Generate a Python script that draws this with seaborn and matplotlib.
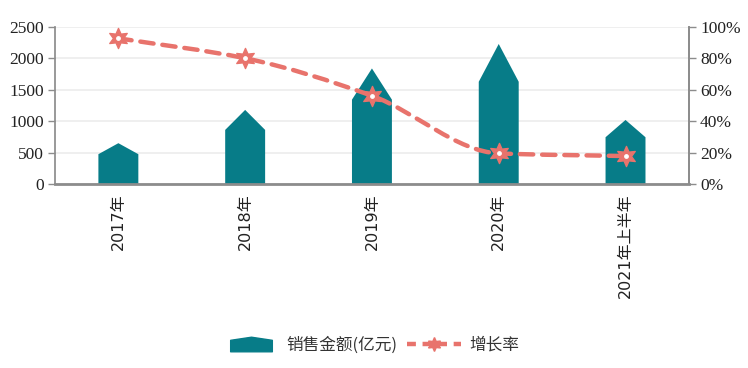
import numpy as np
import pandas as pd
import matplotlib.pyplot as plt
from matplotlib.path import Path
from matplotlib.patches import Polygon, PathPatch
from matplotlib.lines import Line2D
from matplotlib.ticker import MultipleLocator, FuncFormatter
import seaborn as sns

sns.set_theme(style='white')
plt.rcParams['font.family'] = ['DejaVu Sans', 'Noto Sans CJK SC']

categories = ["2017年", "2018年", "2019年", "2020年", "2021年上半年"]
sales = [650, 1180, 1840, 2230, 1020]          # 销售金额(亿元)
growth = [92.8, 80.1, 56.2, 19.5, 17.8]        # 增长率 (%)

BAR_COLOR = '#077c88'
LINE_COLOR = '#e8736c'
AXIS_COLOR = '#8c8c8c'

df = pd.DataFrame({"cat": categories, "sales": sales, "growth": growth})

fig = plt.figure(figsize=(7.48, 3.68), dpi=100)
ax = fig.add_axes([0.0735, 0.5, 0.8475, 0.4266])

sns.barplot(data=df, x="cat", y="sales", color=BAR_COLOR, width=0.315,
            saturation=1, ax=ax, zorder=2)

# turn the rectangles into "house" shapes (shoulder at 73% of the value)
for p in list(ax.patches):
    x0, w, h = p.get_x(), p.get_width(), p.get_height()
    verts = [(x0, 0), (x0, 0.73 * h), (x0 + w / 2, h), (x0 + w, 0.73 * h), (x0 + w, 0)]
    ax.add_patch(Polygon(verts, closed=True, facecolor=BAR_COLOR, edgecolor='none', zorder=2))
    p.remove()

ax.set_xlim(-0.5, len(categories) - 0.5)
ax.set_ylim(0, 2500)
ax.yaxis.set_major_locator(MultipleLocator(500))
ax.grid(axis='y', color='#ececec', lw=1.2, zorder=0)
ax.set_xlabel("")
ax.set_ylabel("")

ax.set_xticks(range(len(categories)))
ax.set_xticklabels(categories, rotation=90, fontsize=11.5, color='#222222')
ax.set_xticks(np.arange(-0.5, len(categories)), minor=True)
ax.tick_params(axis='x', which='major', length=0, pad=7)
ax.tick_params(axis='x', which='minor', length=5, width=1.2, color=AXIS_COLOR, direction='out')
ax.tick_params(axis='y', length=5, width=1, color=AXIS_COLOR, pad=3, left=True)
for lab in ax.get_yticklabels():
    lab.set_family('Liberation Serif')
    lab.set_fontsize(12.5)
    lab.set_color('#222222')

ax.spines['top'].set_visible(False)
ax.spines['left'].set_color(AXIS_COLOR)
ax.spines['right'].set_color(AXIS_COLOR)
ax.spines['bottom'].set_color(AXIS_COLOR)
ax.spines['bottom'].set_linewidth(2)

# growth rate on the right axis
ax2 = ax.twinx()
ax2.set_ylim(0, 100)
ax2.yaxis.set_major_locator(MultipleLocator(20))
ax2.yaxis.set_major_formatter(FuncFormatter(lambda v, _: f"{v:.0f}%"))
ax2.tick_params(axis='y', length=5, width=1, color=AXIS_COLOR, pad=3, right=True)
for lab in ax2.get_yticklabels():
    lab.set_family('Liberation Serif')
    lab.set_fontsize(12.5)
    lab.set_color('#222222')
for s in ['top', 'left', 'bottom']:
    ax2.spines[s].set_visible(False)
ax2.spines['right'].set_color(AXIS_COLOR)
ax2.grid(False)

# smooth dashed curve through the points (monotone cubic drawn as Bezier)
xs = np.arange(len(growth), dtype=float)
ys = np.array(growth, dtype=float)
n = len(ys)
d = np.diff(ys) / np.diff(xs)
m = np.zeros(n)
m[0], m[-1] = d[0], d[-1]
for i in range(1, n - 1):
    if d[i - 1] * d[i] <= 0:
        m[i] = 0
    else:
        m[i] = 2 / (1 / d[i - 1] + 1 / d[i])
verts = [(xs[0], ys[0])]
codes = [Path.MOVETO]
for i in range(n - 1):
    h = xs[i + 1] - xs[i]
    verts += [(xs[i] + h / 3, ys[i] + m[i] * h / 3),
              (xs[i + 1] - h / 3, ys[i + 1] - m[i + 1] * h / 3),
              (xs[i + 1], ys[i + 1])]
    codes += [Path.CURVE4] * 3
curve = PathPatch(Path(verts, codes), facecolor='none', edgecolor=LINE_COLOR, lw=3.2,
                  linestyle=(0, (3, 2)), capstyle='round', zorder=3)
ax2.add_patch(curve)

sns.scatterplot(x=xs, y=ys, marker=(6, 1, 0), s=210, color=LINE_COLOR,
                edgecolor=LINE_COLOR, linewidth=1, ax=ax2, zorder=4)
ax2.scatter(xs, ys, s=6, color='white', zorder=5)
ax2.set_xlim(-0.5, len(categories) - 0.5)

# legend
house = Path([(-1, -0.35), (-1, 0.2), (0, 0.35), (1, 0.2), (1, -0.35), (-1, -0.35)],
             [Path.MOVETO] + [Path.LINETO] * 4 + [Path.CLOSEPOLY])
h1 = Line2D([], [], marker=house, color=BAR_COLOR, linestyle='none', markersize=30)
h2 = Line2D([], [], color=LINE_COLOR, lw=3.2, linestyle=(0, (2, 1.5)),
            marker=(6, 1, 0), markersize=10, markerfacecolor=LINE_COLOR)
fig.legend([h1, h2], ["销售金额(亿元)", "增长率"], loc='center', bbox_to_anchor=(0.497, 0.063),
           ncol=2, frameon=False, prop={'family': ['Noto Sans CJK SC'], 'size': 12},
           handlelength=3.2, columnspacing=0.6, handletextpad=0.5, labelcolor='#333333')

fig.savefig('out.png', dpi=100, facecolor='white')
